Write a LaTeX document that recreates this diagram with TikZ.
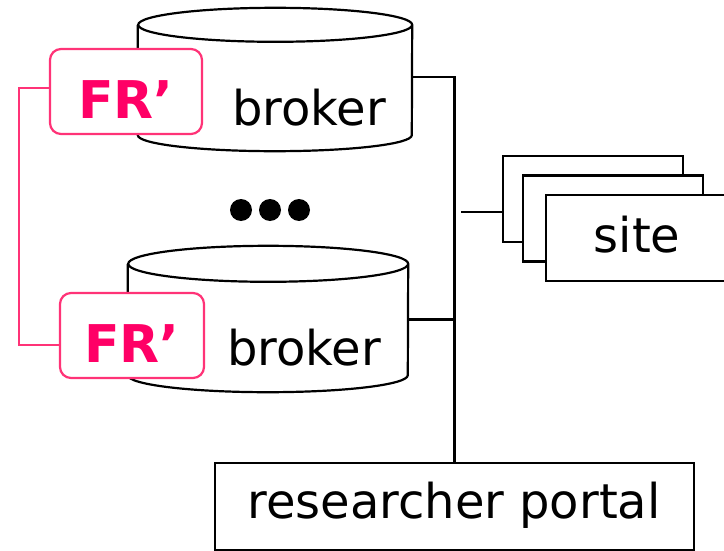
\documentclass[tikz,border=0pt]{standalone}
\usepackage{fontspec}
\setmainfont{DejaVu Sans}
\definecolor{frpink}{RGB}{255,0,102}
\definecolor{frline}{RGB}{255,51,119}
\tikzset{
  body/.style={rectangle,minimum width=#1,minimum height=110pt,inner sep=0pt},
  cyl/.style={draw=black,fill=white,line width=2.2pt},
  frbox/.style={draw=frline,fill=white,line width=2.2pt,rounded corners=11pt,
    minimum width=152pt,minimum height=85pt,inner sep=0pt,text=frpink,
    font=\fontsize{52pt}{60pt}\bfseries,text height=53pt},
  sitebox/.style={draw,fill=white,line width=2.2pt,minimum width=180pt,minimum height=86pt,inner sep=0pt},
  big/.style={font=\fontsize{48pt}{56pt}\selectfont},
  wire/.style={line width=2.2pt},
}
\begin{document}
\begin{tikzpicture}[x=1pt,y=-1pt]
\useasboundingbox (0,0) rectangle (724,551);
% brokers
\path (275,80) node[body=274pt] (b1) {};
\draw[cyl] (b1.north west) -- (b1.south west) arc[start angle=180,end angle=360,x radius=137pt,y radius=16pt]
  -- (b1.north east) arc[start angle=0,end angle=360,x radius=137pt,y radius=17pt];
\path (309,126) node[big,anchor=base] {broker};

\path (268,319.5) node[body=280pt,minimum height=111pt] (b2) {};
\draw[cyl] (b2.north west) -- (b2.south west) arc[start angle=180,end angle=360,x radius=140pt,y radius=17pt]
  -- (b2.north east) arc[start angle=0,end angle=360,x radius=140pt,y radius=18pt];
\path (304,365) node[big,anchor=base] {broker};

\foreach \x in {241,270,299}
  \fill (\x,210) circle[radius=11pt];

% FR' boxes
\path (126,91.5) node[frbox] (fr1) {FR’};
\path (132,335.5) node[frbox,minimum width=144pt] (fr2) {FR’};
\draw[frline,line width=2.2pt] ([yshift=3.5pt]fr1.west) -- ++(-30,0) |- ([yshift=-9.5pt]fr2.west);

% sites
\path (593,199) node[sitebox] (site3) {};
\path (613,218.5) node[sitebox] (site2) {};
\path (637,238) node[sitebox,minimum width=182pt] (site1) {};
\path (637,252) node[big,anchor=base] {site};

% portal
\path (454.5,506.5) node[draw,line width=2.2pt,minimum width=479pt,minimum height=87pt,inner sep=0pt,big] (portal) {};
\path (454,518) node[big,anchor=base] {researcher portal};

% wires
\draw[wire] ([yshift=3pt]b1.east) -| (portal.north);
\draw[wire] (b2.east) -- (b2.east -| portal.north);
\coordinate (sitein) at (461,212);
\draw[wire] (sitein) -- (sitein -| site3.west);
\end{tikzpicture}
\end{document}
